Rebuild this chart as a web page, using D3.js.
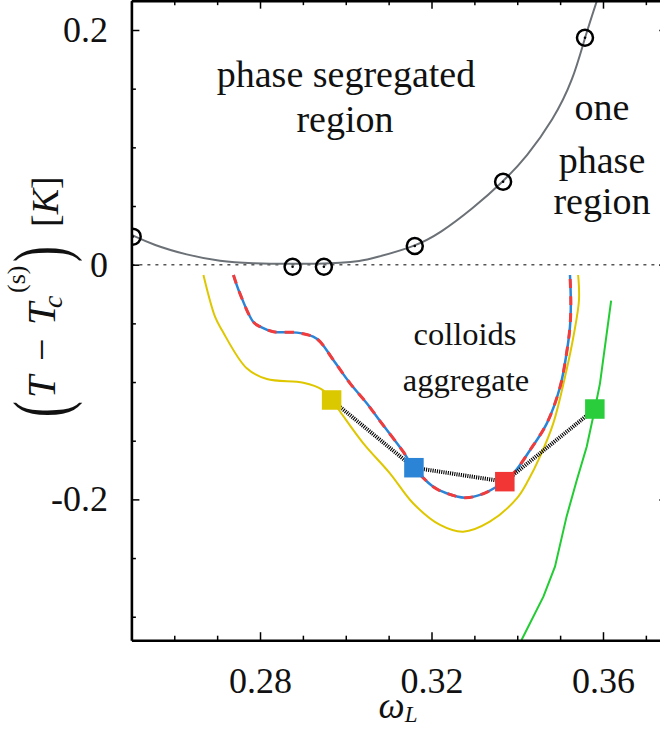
<!DOCTYPE html>
<html>
<head>
<meta charset="utf-8">
<script src="https://cdn.jsdelivr.net/npm/d3@7"></script>
<style>
  html, body { margin: 0; padding: 0; background: #fff; }
  svg { display: block; }
  text { font-family: "Liberation Serif", "Times New Roman", serif; fill: #111; }
</style>
</head>
<body>
<svg id="chart" width="660" height="729"></svg>
<script>
// ---------------- data ----------------
const xDomain = [0.25, 0.375];
const yDomain = [-0.32, 0.225];

const xMajorTicks = [0.28, 0.32, 0.36];
const xTickLabels = ["0.28", "0.32", "0.36"];
const xMinorTicks = [0.25, 0.26, 0.27, 0.29, 0.30, 0.31, 0.33, 0.34, 0.35, 0.37];
const yMajorTicks = [-0.2, 0, 0.2];
const yTickLabels = ["-0.2", "0", "0.2"];
const yMinorTicks = [-0.3, -0.25, -0.15, -0.1, -0.05, 0.05, 0.1, 0.15];

// measured binodal points (open circles)
const circX = [0.2503, 0.2876, 0.2949, 0.3161, 0.3367, 0.3558];
const circY = [0.0239, -0.0017, -0.0017, 0.0159, 0.0707, 0.1934];

// fitted binodal (gray)
const fitX = [0.2501, 0.2551, 0.2629, 0.2707, 0.2784, 0.2862, 0.2940, 0.2987, 0.3034, 0.3064, 0.3161, 0.3220, 0.3297, 0.3367, 0.3422, 0.3484, 0.3531, 0.3558, 0.3595];
const fitY = [0.0253, 0.0168, 0.0083, 0.0026, 0.0012, 0.0006, 0.0008, 0.0014, 0.0030, 0.0055, 0.0153, 0.0268, 0.0481, 0.0707, 0.0920, 0.1233, 0.1580, 0.1943, 0.2350];

// aggregation boundary (blue, overlaid by red dashed)
const blueX = [0.2738, 0.2753, 0.2784, 0.2800, 0.2831, 0.2886, 0.2924, 0.2940, 0.2971, 0.3010, 0.3049, 0.3084, 0.3134, 0.3157, 0.3204, 0.3235, 0.3278, 0.3313, 0.3352, 0.3391, 0.3430, 0.3469, 0.3500, 0.3515, 0.3523, 0.3525, 0.3523];
const blueY = [-0.0088, -0.0244, -0.0486, -0.0528, -0.0571, -0.0579, -0.0614, -0.0656, -0.0812, -0.1011, -0.1181, -0.1352, -0.1594, -0.1721, -0.1892, -0.1948, -0.1986, -0.1962, -0.1892, -0.1778, -0.1579, -0.1352, -0.1040, -0.0755, -0.0528, -0.0329, -0.0088];

// yellow boundary
const yellowX = [0.2668, 0.2695, 0.2711, 0.2769, 0.2816, 0.2901, 0.2944, 0.2967, 0.2987, 0.3041, 0.3103, 0.3157, 0.3220, 0.3274, 0.3336, 0.3399, 0.3426, 0.3453, 0.3484, 0.3515, 0.3531, 0.3544, 0.3542];
const yellowY = [-0.0088, -0.0443, -0.0556, -0.0883, -0.0974, -0.1006, -0.1062, -0.1153, -0.1253, -0.1522, -0.1778, -0.2033, -0.2218, -0.2275, -0.2190, -0.1991, -0.1835, -0.1636, -0.1352, -0.0897, -0.0614, -0.0301, -0.0088];

// green boundary
const greenX = [0.3410, 0.3461, 0.3488, 0.3515, 0.3539, 0.3562, 0.3581, 0.3593, 0.3619];
const greenY = [-0.3198, -0.2829, -0.2573, -0.2147, -0.1835, -0.1551, -0.1230, -0.1011, -0.0307];

// square markers (yellow, blue, red, green), joined by dotted line
const sqX = [0.2967, 0.3159, 0.3371, 0.3581];
const sqY = [-0.1153, -0.1730, -0.1849, -0.1230];
const sqColors = ["#dcc800", "#2b84d6", "#f23636", "#2acd3c"];

// ---------------- drawing ----------------
const svg = d3.select("#chart");
const L = 131.4, R = 667.3, T = 0.66, B = 640.2;
const x = d3.scaleLinear().domain(xDomain).range([L, R]);
const y = d3.scaleLinear().domain(yDomain).range([B, T]);

svg.append("defs").append("clipPath").attr("id", "clip")
  .append("rect").attr("x", L).attr("y", T).attr("width", R - L).attr("height", B - T);

const plot = svg.append("g").attr("clip-path", "url(#clip)");
const zip = (X, Y) => X.map((v, i) => [v, Y[i]]);
const lineLin = d3.line().x(d => x(d[0])).y(d => y(d[1]));
const lineSmooth = d3.line().x(d => x(d[0])).y(d => y(d[1])).curve(d3.curveCatmullRom.alpha(0.5));
const lineFit = d3.line().x(d => x(d[0])).y(d => y(d[1])).curve(d3.curveBasis);

// zero line
plot.append("line")
  .attr("x1", x(xDomain[0])).attr("x2", x(xDomain[1]))
  .attr("y1", y(0)).attr("y2", y(0))
  .attr("stroke", "#555").attr("stroke-width", 1.5).attr("stroke-dasharray", "3,5");

// gray fit
plot.append("path").datum(zip(fitX, fitY)).attr("d", lineFit)
  .attr("fill", "none").attr("stroke", "#6b7176").attr("stroke-width", 2);

// yellow
plot.append("path").datum(zip(yellowX, yellowY)).attr("d", lineSmooth)
  .attr("fill", "none").attr("stroke", "#dfc700").attr("stroke-width", 2);

// green
plot.append("path").datum(zip(greenX, greenY)).attr("d", lineLin)
  .attr("fill", "none").attr("stroke", "#22cc33").attr("stroke-width", 2);

// blue + red dashed overlay
plot.append("path").datum(zip(blueX, blueY)).attr("d", lineSmooth)
  .attr("fill", "none").attr("stroke", "#2b84d6").attr("stroke-width", 2.5);
plot.append("path").datum(zip(blueX, blueY)).attr("d", lineSmooth)
  .attr("fill", "none").attr("stroke", "#f23b3b").attr("stroke-width", 3)
  .attr("stroke-dasharray", "9,8");

// dotted connector
plot.append("path").datum(zip(sqX, sqY)).attr("d", lineLin)
  .attr("fill", "none").attr("stroke", "#000").attr("stroke-width", 4)
  .attr("stroke-dasharray", "1.1,1.1");

// squares
const S = 19.5;
plot.selectAll("rect.sq").data(zip(sqX, sqY)).enter().append("rect")
  .attr("class", "sq")
  .attr("x", d => x(d[0]) - S / 2).attr("y", d => y(d[1]) - S / 2)
  .attr("width", S).attr("height", S)
  .attr("fill", (d, i) => sqColors[i]);

// circles
const circ = zip(circX, circY);
plot.selectAll("circle.pt").data(circ).enter().append("circle")
  .attr("class", "pt")
  .attr("cx", d => x(d[0])).attr("cy", d => y(d[1])).attr("r", 8)
  .attr("fill", "none").attr("stroke", "#000").attr("stroke-width", 2.5);
plot.selectAll("circle.dot").data(circ).enter().append("circle")
  .attr("class", "dot")
  .attr("cx", d => x(d[0])).attr("cy", d => y(d[1])).attr("r", 1.3)
  .attr("fill", "#000");

// ---------------- axes ----------------
function styleAxis(g, keepDomain) {
  g.selectAll(".tick line").attr("stroke", "#000").attr("stroke-width", 1.5);
  if (keepDomain) g.select(".domain").attr("stroke", "#000").attr("stroke-width", 2.6);
  else g.select(".domain").remove();
}
const fs = 36;

// bottom
const gxB = svg.append("g").attr("transform", `translate(0,${B})`)
  .call(d3.axisBottom(x).tickValues(xMajorTicks).tickSize(-8).tickSizeOuter(0)
    .tickPadding(27).tickFormat((d, i) => xTickLabels[i]));
styleAxis(gxB, true);
gxB.selectAll("text").attr("font-size", fs).attr("font-family", "Liberation Serif").attr("fill", "#111");
const gxBm = svg.append("g").attr("transform", `translate(0,${B})`)
  .call(d3.axisBottom(x).tickValues(xMinorTicks).tickSize(-4.5).tickFormat(""));
styleAxis(gxBm, false);

// top
const gxT = svg.append("g").attr("transform", `translate(0,${T})`)
  .call(d3.axisTop(x).tickValues(xMajorTicks).tickSize(-8).tickSizeOuter(0).tickFormat(""));
styleAxis(gxT, true);
const gxTm = svg.append("g").attr("transform", `translate(0,${T})`)
  .call(d3.axisTop(x).tickValues(xMinorTicks).tickSize(-4.5).tickFormat(""));
styleAxis(gxTm, false);

// left
const gyL = svg.append("g").attr("transform", `translate(${L},0)`)
  .call(d3.axisLeft(y).tickValues(yMajorTicks).tickSize(-8).tickSizeOuter(0)
    .tickPadding(23.5).tickFormat((d, i) => yTickLabels[i]));
styleAxis(gyL, true);
gyL.selectAll("text").attr("font-size", fs).attr("font-family", "Liberation Serif").attr("fill", "#111");
const gyLm = svg.append("g").attr("transform", `translate(${L},0)`)
  .call(d3.axisLeft(y).tickValues(yMinorTicks).tickSize(-4.5).tickFormat(""));
styleAxis(gyLm, false);

// right
const gyR = svg.append("g").attr("transform", `translate(${R},0)`)
  .call(d3.axisRight(y).tickValues(yMajorTicks).tickSize(-8).tickSizeOuter(0).tickFormat(""));
styleAxis(gyR, true);
const gyRm = svg.append("g").attr("transform", `translate(${R},0)`)
  .call(d3.axisRight(y).tickValues(yMinorTicks).tickSize(-4.5).tickFormat(""));
styleAxis(gyRm, false);

// ---------------- labels ----------------
// x label: omega_L
const xl = svg.append("text").attr("x", 398).attr("y", 718).attr("text-anchor", "middle")
  .attr("font-size", 37).attr("font-style", "italic");
xl.append("tspan").text("ω");
xl.append("tspan").attr("font-size", 23).attr("dy", 4).text("L");

// y label (rotated), pieces placed along the reading direction
const yl = svg.append("g").attr("transform", "rotate(-90)");
function yPiece(txt, yStart, base, size, italic) {
  return yl.append("text").attr("x", -yStart).attr("y", base)
    .attr("font-size", size).attr("font-style", italic ? "italic" : "normal").text(txt);
}
function bigParen(txt, yStart, base) {
  // tall thin delimiter: glyph stretched perpendicular to the reading direction
  return yl.append("text")
    .attr("transform", `translate(${-yStart},${base}) scale(1.25,2.0)`)
    .attr("font-size", 38).text(txt);
}
bigParen("(", 417, 66);
yPiece("T", 398, 55, 40, true);
yPiece("−", 361, 55, 40, false);
yPiece("T", 325, 55, 40, true);
yPiece("c", 308, 62, 28, true);
yPiece("(s)", 293, 25, 26, false);
bigParen(")", 262, 66);
const kb = yl.append("text").attr("x", -227).attr("y", 58).attr("font-size", 38);
kb.append("tspan").text("[");
kb.append("tspan").attr("font-style", "italic").text("K");
kb.append("tspan").text("]");

// region annotations
function note(txt, cx, by, size) {
  svg.append("text").attr("x", cx).attr("y", by).attr("text-anchor", "middle")
    .attr("font-size", size).text(txt);
}
note("phase segregated", 346, 87, 38);
note("region", 345, 132, 38);
note("one", 602, 120, 38);
note("phase", 602, 173, 38);
note("region", 602, 213.5, 38);
note("colloids", 465, 345, 32.5);
note("aggregate", 466, 391, 32.5);
</script>
</body>
</html>
